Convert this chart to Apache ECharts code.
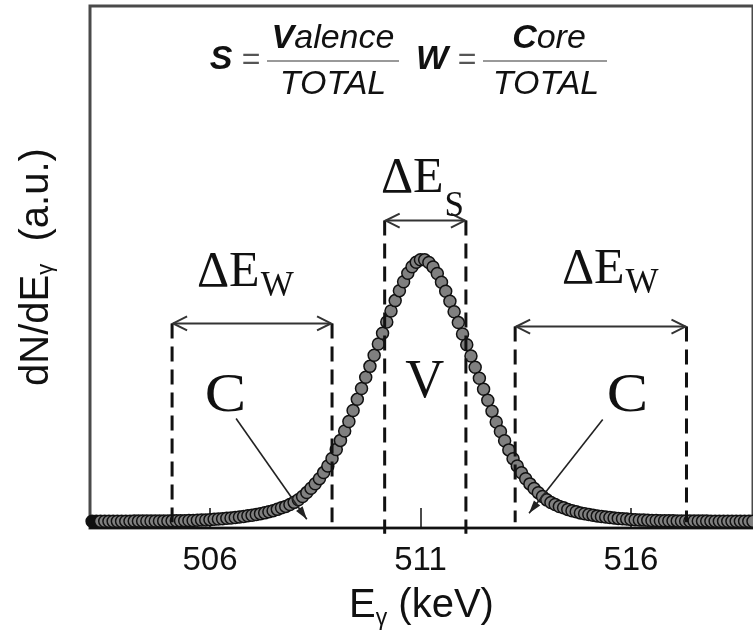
<!DOCTYPE html>
<html>
<head>
<meta charset="utf-8">
<script src="https://cdn.jsdelivr.net/npm/echarts@6/dist/echarts.min.js"></script>
<style>
  html, body { margin: 0; padding: 0; background: #fff; }
  #chart { width: 753px; height: 635px; }
</style>
</head>
<body>
<div id="chart"></div>
<script>
// Photon energy of each channel (keV)
const energies = [
  503.2, 503.3, 503.4, 503.5, 503.6, 503.7, 503.8, 503.9,
  504.0, 504.1, 504.2, 504.3, 504.4, 504.5, 504.6, 504.7, 504.8, 504.9,
  505.0, 505.1, 505.2, 505.3, 505.4, 505.5, 505.6, 505.7, 505.8, 505.9,
  506.0, 506.1, 506.2, 506.3, 506.4, 506.5, 506.6, 506.7, 506.8, 506.9,
  507.0, 507.1, 507.2, 507.3, 507.4, 507.5, 507.6, 507.7, 507.8, 507.9,
  508.0, 508.1, 508.2, 508.3, 508.4, 508.5, 508.6, 508.7, 508.8, 508.9,
  509.0, 509.1, 509.2, 509.3, 509.4, 509.5, 509.6, 509.7, 509.8, 509.9,
  510.0, 510.1, 510.2, 510.3, 510.4, 510.5, 510.6, 510.7, 510.8, 510.9,
  511.0, 511.1, 511.2, 511.3, 511.4, 511.5, 511.6, 511.7, 511.8, 511.9,
  512.0, 512.1, 512.2, 512.3, 512.4, 512.5, 512.6, 512.7, 512.8, 512.9,
  513.0, 513.1, 513.2, 513.3, 513.4, 513.5, 513.6, 513.7, 513.8, 513.9,
  514.0, 514.1, 514.2, 514.3, 514.4, 514.5, 514.6, 514.7, 514.8, 514.9,
  515.0, 515.1, 515.2, 515.3, 515.4, 515.5, 515.6, 515.7, 515.8, 515.9,
  516.0, 516.1, 516.2, 516.3, 516.4, 516.5, 516.6, 516.7, 516.8, 516.9,
  517.0, 517.1, 517.2, 517.3, 517.4, 517.5, 517.6, 517.7, 517.8, 517.9,
  518.0, 518.1, 518.2, 518.3, 518.4, 518.5, 518.6, 518.7, 518.8, 518.9,
  519.0
];

// dN/dE counts per channel (a.u.)
const counts = [
  1.30, 1.30, 1.31, 1.31, 1.31, 1.32, 1.32, 1.32,
  1.33, 1.33, 1.34, 1.34, 1.35, 1.35, 1.36, 1.36, 1.37, 1.38,
  1.38, 1.39, 1.40, 1.41, 1.43, 1.45, 1.47, 1.51, 1.54, 1.57,
  1.62, 1.68, 1.74, 1.80, 1.87, 1.95, 2.03, 2.12, 2.24, 2.35,
  2.46, 2.60, 2.77, 2.92, 3.13, 3.34, 3.59, 3.90, 4.16, 4.53,
  4.93, 5.42, 6.05, 6.80, 7.62, 8.49, 9.47, 10.63, 11.91, 13.34,
  15.04, 16.80, 18.59, 20.42, 22.52, 24.66, 26.74, 28.88, 30.98, 33.09,
  35.27, 37.31, 39.47, 41.57, 43.57, 45.48, 47.20, 48.82, 50.06, 50.92,
  51.41, 51.38, 50.88, 50.02, 48.76, 47.10, 45.35, 43.44, 41.45, 39.36,
  37.18, 35.11, 32.95, 30.82, 28.70, 26.60, 24.50, 22.40, 20.33, 18.50,
  16.72, 14.98, 13.30, 11.88, 10.60, 9.44, 8.47, 7.60, 6.79, 6.04,
  5.41, 4.92, 4.52, 4.15, 3.89, 3.58, 3.33, 3.12, 2.91, 2.76,
  2.59, 2.45, 2.34, 2.23, 2.11, 2.02, 1.94, 1.86, 1.79, 1.73,
  1.67, 1.61, 1.56, 1.53, 1.50, 1.46, 1.44, 1.42, 1.41, 1.40,
  1.39, 1.38, 1.37, 1.37, 1.36, 1.35, 1.35, 1.34, 1.34, 1.33,
  1.33, 1.32, 1.32, 1.32, 1.31, 1.31, 1.31, 1.30, 1.30, 1.30,
  1.30
];

// Energy tick labels
const tickValues = [506, 511, 516];

// Integration windows: core (W) wings and valence (S) centre
const windowFrom  = [505.1, 510.15, 513.25];
const windowTo    = [508.9, 512.08, 517.32];
const windowName  = ['W', 'S', 'W'];

// Region labels on the peak
const regionText   = ['C', 'V', 'C'];
const regionEnergy = [506.37, 511.1, 515.92];

// ---- annotation geometry (data units) ----
const windowArrowLevel = [39.2, 58.9, 38.6];   // height of the double arrows
const windowFootLevel  = [1.1, -1.1, 1.1];     // lower end of the dashed limits
const windowTextE      = [507.18, 511.55, 515.85];
const windowTextLevel  = [48.9, 66.9, 49.4];
const windowSubLevel   = [46.2, 61.6, 46.8];
const regionLevel      = [25.1, 27.9, 25.1];
// leader lines from the C labels down to the wings
const leaderFrom = [[506.62, 21.0], null, [515.33, 20.8]];
const leaderTo   = [[508.3, 1.7],   null, [513.58, 2.85]];

const SANS  = '"Liberation Sans", Arial, Helvetica, sans-serif';
const SERIF = '"Liberation Serif", "Times New Roman", serif';
const INK = '#111';

const chart = echarts.init(document.getElementById('chart'));

function renderWindow(params, api) {
  const i = params.dataIndex;
  const a  = api.coord([windowFrom[i], windowArrowLevel[i]]);
  const b  = api.coord([windowTo[i], windowArrowLevel[i]]);
  const fa = api.coord([windowFrom[i], windowFootLevel[i]]);
  const fb = api.coord([windowTo[i], windowFootLevel[i]]);
  const t  = api.coord([windowTextE[i], windowTextLevel[i]]);
  const s  = api.coord([windowTextE[i], windowSubLevel[i]]);
  const dash  = { stroke: INK, lineWidth: 3, lineDash: [15, 8], fill: 'none' };
  const shaft = { stroke: '#333', lineWidth: 2, fill: 'none' };
  const hl = 15, hw = 7;
  return {
    type: 'group',
    children: [
      { type: 'line', shape: { x1: a[0], y1: a[1], x2: fa[0], y2: fa[1] }, style: dash },
      { type: 'line', shape: { x1: b[0], y1: b[1], x2: fb[0], y2: fb[1] }, style: dash },
      { type: 'line', shape: { x1: a[0] + 1, y1: a[1], x2: b[0] - 1, y2: b[1] }, style: shaft },
      { type: 'polyline', shape: { points: [[a[0] + hl, a[1] - hw], [a[0] + 1, a[1]], [a[0] + hl, a[1] + hw]] }, style: shaft },
      { type: 'polyline', shape: { points: [[b[0] - hl, b[1] - hw], [b[0] - 1, b[1]], [b[0] - hl, b[1] + hw]] }, style: shaft },
      { type: 'text', x: t[0], y: t[1],
        style: { text: 'ΔE', font: '50px ' + SERIF, fill: INK, align: 'right', verticalAlign: 'middle' } },
      { type: 'text', x: s[0] + 1, y: s[1],
        style: { text: windowName[i], font: '35px ' + SERIF, fill: INK, align: 'left', verticalAlign: 'middle' } }
    ]
  };
}

function renderRegion(params, api) {
  const i = params.dataIndex;
  const p = api.coord([regionEnergy[i], regionLevel[i]]);
  const children = [
    { type: 'text', x: p[0], y: p[1], scaleX: regionText[i] === 'C' ? 1.15 : 1,
      style: { text: regionText[i], font: '54px ' + SERIF, fill: INK, align: 'center', verticalAlign: 'middle' } }
  ];
  if (leaderFrom[i]) {
    const f = api.coord(leaderFrom[i]);
    const e = api.coord(leaderTo[i]);
    const dx = e[0] - f[0], dy = e[1] - f[1];
    const len = Math.sqrt(dx * dx + dy * dy);
    const ux = dx / len, uy = dy / len;
    const hl = 13, hw = 4;
    children.push(
      { type: 'line', shape: { x1: f[0], y1: f[1], x2: e[0], y2: e[1] },
        style: { stroke: '#222', lineWidth: 1.6, fill: 'none' } },
      { type: 'polygon', shape: { points: [
          [e[0], e[1]],
          [e[0] - ux * hl - uy * hw, e[1] - uy * hl + ux * hw],
          [e[0] - ux * hl + uy * hw, e[1] - uy * hl - ux * hw]
        ] }, style: { fill: '#222', stroke: 'none' } }
    );
  }
  return { type: 'group', children };
}

const spectrum = energies.map((e, i) => (i < 2
  ? { value: [e, counts[i]], itemStyle: { color: '#111' } }
  : [e, counts[i]]));

const option = {
  animation: false,
  backgroundColor: '#fff',
  grid: {
    left: 90, top: 6, width: 671, height: 526,
    show: true, borderColor: '#4a4a4a', borderWidth: 3, backgroundColor: 'transparent'
  },
  xAxis: {
    type: 'value',
    min: 503.15, max: 518.9,
    axisLine: { show: true, onZero: false, lineStyle: { color: '#111', width: 2 } },
    axisTick: { show: true, inside: true, length: 20, customValues: tickValues, lineStyle: { color: '#111', width: 1.5 } },
    axisLabel: { customValues: tickValues, margin: 16, color: INK, fontSize: 33, fontFamily: SANS },
    splitLine: { show: false },
    name: '{m|E}{s|γ}{m| (keV)}',
    nameLocation: 'middle',
    nameGap: 47,
    nameTextStyle: {
      rich: {
        m: { fontSize: 40, fontFamily: SANS, color: INK, lineHeight: 46 },
        s: { fontSize: 23, fontFamily: SANS, color: INK, lineHeight: 23, padding: [25, 0, 0, 0] }
      }
    }
  },
  yAxis: {
    type: 'value',
    min: 0, max: 100,
    axisLine: { show: false },
    axisTick: { show: false },
    axisLabel: { show: false },
    splitLine: { show: false },
    name: '{m|dN/dE}{s|γ}{m|  (a.u.)}',
    nameLocation: 'middle',
    nameGap: 30,
    nameTextStyle: {
      rich: {
        m: { fontSize: 40, fontFamily: SANS, color: INK, lineHeight: 46 },
        s: { fontSize: 22, fontFamily: SANS, color: INK, lineHeight: 22, padding: [18, 0, 0, 0] }
      }
    }
  },
  series: [
    {
      type: 'line',
      data: spectrum,
      symbol: 'circle',
      symbolSize: 12,
      showAllSymbol: true,
      lineStyle: { color: '#111', width: 2.5 },
      itemStyle: { color: '#808080', borderColor: '#111', borderWidth: 1.5 },
      z: 3
    },
    {
      type: 'custom',
      renderItem: renderWindow,
      data: windowFrom.map((e, i) => [e, windowArrowLevel[i]]),
      z: 4
    },
    {
      type: 'custom',
      renderItem: renderRegion,
      data: regionEnergy.map((e, i) => [e, regionLevel[i]]),
      z: 5
    }
  ],
  graphic: [
    { type: 'text', x: 221, y: 60, style: { text: 'S', font: 'italic bold 34px ' + SANS, fill: INK, align: 'center', verticalAlign: 'middle' } },
    { type: 'text', x: 251, y: 60, style: { text: '=', font: '32px ' + SANS, fill: '#555', align: 'center', verticalAlign: 'middle' } },
    { type: 'text', x: 333, y: 39, style: {
        text: '{b|V}{i|alence}', align: 'center', verticalAlign: 'middle',
        rich: {
          b: { font: 'italic bold 34px ' + SANS, fill: INK },
          i: { font: 'italic 34px ' + SANS, fill: INK }
        } } },
    { type: 'line', shape: { x1: 267, y1: 61, x2: 399, y2: 61 }, style: { stroke: '#999', lineWidth: 2 } },
    { type: 'text', x: 333, y: 85, style: { text: 'TOTAL', font: 'italic 34px ' + SANS, fill: INK, align: 'center', verticalAlign: 'middle' } },
    { type: 'text', x: 432, y: 60, style: { text: 'W', font: 'italic bold 34px ' + SANS, fill: INK, align: 'center', verticalAlign: 'middle' } },
    { type: 'text', x: 467, y: 60, style: { text: '=', font: '32px ' + SANS, fill: '#555', align: 'center', verticalAlign: 'middle' } },
    { type: 'text', x: 549, y: 39, style: {
        text: '{b|C}{i|ore}', align: 'center', verticalAlign: 'middle',
        rich: {
          b: { font: 'italic bold 34px ' + SANS, fill: INK },
          i: { font: 'italic 34px ' + SANS, fill: INK }
        } } },
    { type: 'line', shape: { x1: 483, y1: 61, x2: 607, y2: 61 }, style: { stroke: '#999', lineWidth: 2 } },
    { type: 'text', x: 546, y: 85, style: { text: 'TOTAL', font: 'italic 34px ' + SANS, fill: INK, align: 'center', verticalAlign: 'middle' } }
  ]
};

chart.setOption(option);
</script>
</body>
</html>
